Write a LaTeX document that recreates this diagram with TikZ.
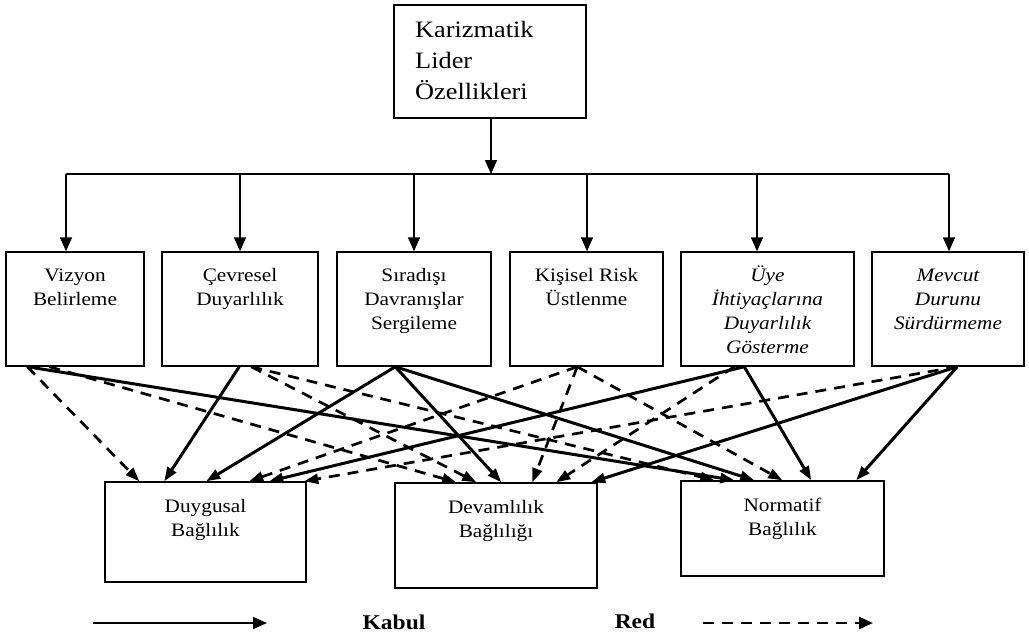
\documentclass[tikz,border=0pt]{standalone}
\usepackage{fontspec}
\setmainfont[FakeStretch=1.12]{Liberation Serif}
\usetikzlibrary{arrows.meta}
\begin{document}
\begin{tikzpicture}[x=1pt,y=-1pt,
  box/.style={draw, line width=1.5pt, inner sep=0pt},
  mtxt/.style={anchor=north, align=center, inner sep=0pt, font=\fontsize{19}{24}\selectfont},
  ttxt/.style={anchor=north west, align=left, inner sep=0pt, font=\fontsize{23.5}{31}\selectfont},
  ltxt/.style={inner sep=0pt, font=\fontsize{21}{24}\selectfont\bfseries},
  toparr/.style={line width=1.7pt, -{Triangle[length=14pt,width=12pt]}},
  kabul/.style={line width=3pt, -{Triangle[length=14pt,width=10pt]}},
  red/.style={line width=2.7pt, dash pattern=on 11pt off 8pt, -{Triangle[length=14pt,width=10pt]}},
  legk/.style={line width=2pt, -{Triangle[length=14pt,width=12pt]}},
  legr/.style={line width=2.4pt, dash pattern=on 11pt off 8pt, -{Triangle[length=14pt,width=12pt]}}]
\useasboundingbox (0,0) rectangle (1029,634);
\fill[white] (0,0) rectangle (1029,634);

% top box
\node[box, minimum width=192pt, minimum height=113pt] (top) at (490,61.5) {};
\node[ttxt] (toptxt) at ([xshift=-75pt,yshift=-11.3pt]top.north) {\strut Karizmatik\\\strut Lider\\\strut Özellikleri};

% middle boxes
\node[box, minimum width=138pt, minimum height=114pt] (viz) at (75,309) {};
\node[box, minimum width=156pt, minimum height=114pt] (cev) at (240,309) {};
\node[box, minimum width=154pt, minimum height=114pt] (sir) at (414,309) {};
\node[box, minimum width=153pt, minimum height=114pt] (kis) at (586.5,309) {};
\node[box, minimum width=173pt, minimum height=114pt] (uye) at (767.5,309) {};
\node[box, minimum width=152pt, minimum height=114pt] (mev) at (948,309) {};

\node[mtxt] (viztxt) at ([yshift=-13.2pt]viz.north) {\strut Vizyon\\\strut Belirleme};
\node[mtxt] (cevtxt) at ([yshift=-13.2pt]cev.north) {\strut Çevresel\\\strut Duyarlılık};
\node[mtxt] (sirtxt) at ([yshift=-13.2pt]sir.north) {\strut Sıradışı\\\strut Davranışlar\\\strut Sergileme};
\node[mtxt] (kistxt) at ([yshift=-13.2pt]kis.north) {\strut Kişisel Risk\\\strut Üstlenme};
\node[mtxt, font=\fontsize{19}{24}\selectfont\itshape] (uyetxt) at ([yshift=-13.2pt]uye.north) {\strut Üye\\\strut İhtiyaçlarına\\\strut Duyarlılık\\\strut Gösterme};
\node[mtxt, font=\fontsize{19}{24}\selectfont\itshape] (mevtxt) at ([yshift=-13.2pt]mev.north) {\strut Mevcut\\\strut Durunu\\\strut Sürdürmeme};

% bottom boxes
\node[box, minimum width=201pt, minimum height=100pt] (duy) at (205.5,532) {};
\node[box, minimum width=202pt, minimum height=105pt] (dev) at (496,535.5) {};
\node[box, minimum width=203pt, minimum height=95pt] (nor) at (782.5,528.5) {};

\node[mtxt] (duytxt) at ([yshift=-14.2pt]duy.north) {\strut Duygusal\\\strut Bağlılık};
\node[mtxt] (devtxt) at ([yshift=-14.2pt]dev.north) {\strut Devamlılık\\\strut Bağlılığı};
\node[mtxt] (nortxt) at ([yshift=-14.2pt]nor.north) {\strut Normatif\\\strut Bağlılık};

% top distribution
\coordinate (bus) at (491,174);
\coordinate (vizin) at ([xshift=-9pt]viz.north);
\coordinate (cevin) at (cev.north);
\coordinate (sirin) at (sir.north);
\coordinate (kisin) at ([xshift=0.5pt]kis.north);
\coordinate (uyein) at ([xshift=-10.5pt]uye.north);
\coordinate (mevin) at ([xshift=1pt]mev.north);
\draw[toparr] ([xshift=1pt]top.south) -- (bus);
\draw[line width=1.7pt] (bus -| vizin) -- (bus -| mevin);
\foreach \t in {vizin,cevin,sirin,kisin,uyein,mevin}
  \draw[toparr] (bus -| \t) -- (\t);

% cross connectors
\draw[red]   ([xshift=22pt]viz.south west) -- ([xshift=35pt]duy.north west);
\draw[red]   ([xshift=44pt]viz.south west) -- ([xshift=62pt]dev.north west);
\draw[kabul] ([xshift=22pt]viz.south west) -- ([xshift=54pt]nor.north west);

\draw[kabul] ([xshift=78pt]cev.south west) -- ([xshift=60pt]duy.north west);
\draw[red]   ([xshift=90pt]cev.south west) -- ([xshift=82pt]dev.north west);
\draw[red]   ([xshift=90pt]cev.south west) -- ([xshift=34pt]nor.north west);

\draw[kabul] ([xshift=59pt]sir.south west) -- ([xshift=102pt]duy.north west);
\draw[kabul] ([xshift=59pt]sir.south west) -- ([xshift=107pt]dev.north west);
\draw[kabul] ([xshift=59pt]sir.south west) -- ([xshift=74pt]nor.north west);

\draw[red]   ([xshift=68pt]kis.south west) -- ([xshift=145pt]duy.north west);
\draw[red]   ([xshift=68pt]kis.south west) -- ([xshift=138pt]dev.north west);
\draw[red]   ([xshift=68pt]kis.south west) -- ([xshift=102pt]nor.north west);

\draw[kabul] ([xshift=64pt]uye.south west) -- ([xshift=165pt]duy.north west);
\draw[red]   ([xshift=54pt]uye.south west) -- ([xshift=162pt]dev.north west);
\draw[kabul] ([xshift=64pt]uye.south west) -- ([xshift=131pt]nor.north west);

\draw[red]   ([xshift=86pt]mev.south west) -- ([xshift=200pt]duy.north west);
\draw[kabul] ([xshift=86pt]mev.south west) -- ([xshift=197pt]dev.north west);
\draw[kabul] ([xshift=86pt]mev.south west) -- ([xshift=176pt]nor.north west);

% legend
\coordinate (ks) at (93,623);
\coordinate (ke) at (267,623);
\coordinate (rs) at (703,623);
\coordinate (re) at (873,623);
\draw[legk] (ks) -- (ke);
\node[ltxt] (kabtxt) at (394,622) {Kabul};
\node[ltxt] (redtxt) at (635,621) {Red};
\draw[legr] (rs) -- (re);
\end{tikzpicture}
\end{document}
